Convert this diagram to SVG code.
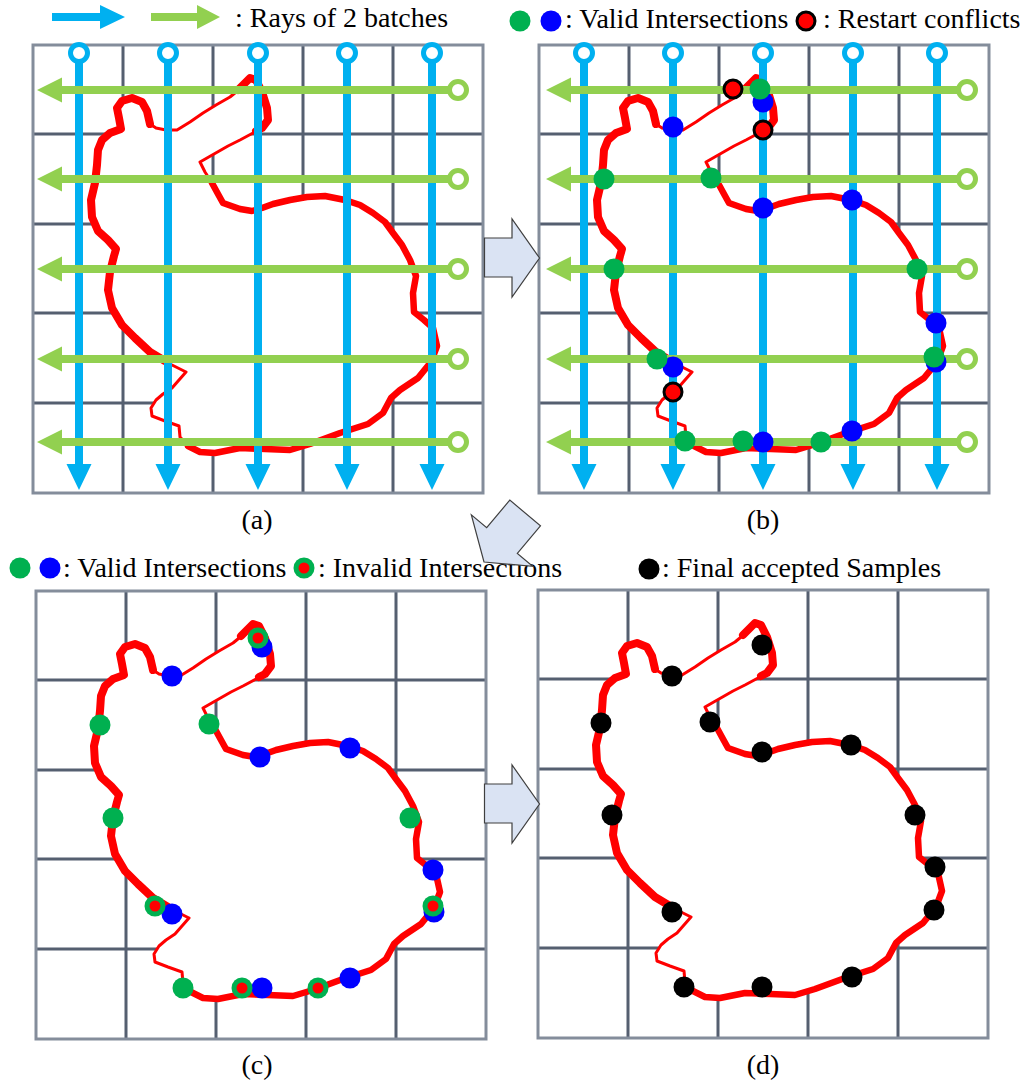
<svg xmlns="http://www.w3.org/2000/svg" xmlns:xlink="http://www.w3.org/1999/xlink" width="1032" height="1092" viewBox="0 0 1032 1092">
<style>
  .bg{fill:#ffffff}
  .frame-fill{fill:#ffffff;stroke:none}
  .frame{fill:none;stroke:#848D9B;stroke-width:3}
  .grid{fill:none;stroke:#555F70;stroke-width:3}
  .outline{fill:#ffffff;stroke:#FF0000;stroke-width:3;stroke-linejoin:round;stroke-linecap:round}
  .thick{fill:none;stroke:#FF0000;stroke-width:8;stroke-linejoin:round;stroke-linecap:round}
  .mid{fill:none;stroke:#FF0000;stroke-width:6.5;stroke-linejoin:round;stroke-linecap:round}
  .ray-b{fill:none;stroke:#00B0F0;stroke-width:8}
  .ray-g{fill:none;stroke:#92D050;stroke-width:8}
  .head-b{fill:#00B0F0}
  .head-g{fill:#92D050}
  .end-b{fill:#ffffff;stroke:#00B0F0;stroke-width:5}
  .end-g{fill:#ffffff;stroke:#92D050;stroke-width:5}
  .dot-g{fill:#00B050}
  .dot-b{fill:#0000FF}
  .dot-r{fill:#FF0000;stroke:#000000;stroke-width:3}
  .dot-in{fill:#FF0000}
  .dot-k{fill:#000000}
  .txt{font-family:"Liberation Serif","Times New Roman",serif;font-size:28px;fill:#000000}
  .mid-t{text-anchor:middle}
  .block{fill:#DAE3F3;stroke:#3F3F3F;stroke-width:1.2;stroke-linejoin:miter}
</style>
<defs>
  <!-- 5x5 cell grid with its frame -->
  <g id="grid">
    <rect class="frame-fill" x="33" y="45" width="450" height="448"/>
    <path class="grid" d="M123,45V493M213,45V493M303,45V493M393,45V493M33,134H483M33,224H483M33,313H483M33,403H483"/>
  </g>
  <rect id="frame" class="frame" x="33" y="45" width="450" height="448"/>
  <!-- bunny silhouette: white interior, red contour of varying weight -->
  <g id="bunny">
    <path class="outline" d="M121,129 L119,118 L117,108 L122,101 L132,98 L142,102 L147,111 L150,124 L156,128 L166,130 L177,130 L190,122 L203,113 L216,105 L230,97 L241,88 L250,78 L256,80 L262,92 L267,108 L268,120 L262,128 L253,133 L240,140 L228,146 L214,154 L200,162 L205,172 L212,183 L218,194 L223,203 L240,209 L252,211 L262,208 L273,204 L290,200 L307,197 L325,196 L345,200 L360,205 L373,213 L385,222 L393,233 L402,245 L410,260 L416,276 L413,293 L414,312 L424,320 L433,328 L437,346 L431,362 L418,378 L400,390 L391,398 L383,413 L368,424 L340,433 L310,444 L290,450 L265,449 L240,448 L215,453 L200,452 L188,446 L180,437 L179,426 L165,421 L152,416 L151,408 L156,400 L163,394 L172,388 L186,372 L170,364 L150,352 L135,338 L122,325 L112,308 L108,290 L110,272 L114,256 L116,249 L108,240 L98,231 L92,217 L91,200 L95,183 L97,165 L98,150 L102,140 L110,133 Z"/>
    <path class="thick" d="M150,124 L147,111 L142,102 L132,98 L122,101 L117,108 L119,118 L121,129 L110,133 L102,140 L98,150 L97,165 L95,183 L91,200 L92,217 L98,231 L108,240 L116,249 L114,256 L110,272 L108,290 L112,308 L122,325 L135,338 L150,352 L165,361"/>
    <path class="thick" d="M238,90 L250,78 L256,80 L262,92 L267,108 L268,120 L262,128 L256,131"/>
    <path class="mid" d="M212,183 L218,194 L223,203 L240,209 L252,211 L262,208 L273,204 L290,200 L307,197 L325,196 L345,200 L360,205 L373,213 L385,222 L393,233 L402,245 L410,260 L416,276 L413,293 L414,312 L424,320 L433,328 L437,346 L431,362 L418,378 L400,390 L391,398 L383,413 L368,424 L340,433 L310,444 L290,450 L265,449 L240,448 L215,453 L200,452 L188,446"/>
  </g>
</defs>

<rect class="bg" x="0" y="0" width="1032" height="1092"/>

<!-- legend: ray batches -->
<g id="legend-rays">
  <path class="head-b" d="M52,13H100V5L125,17L100,29V21H52Z"/>
  <path class="head-g" d="M151,13H197V5L220,17L197,29V21H151Z"/>
  <text class="txt" x="235" y="27">: Rays of 2 batches</text>
</g>

<!-- legend: intersections / restart conflicts -->
<g id="legend-conflicts">
  <circle class="dot-g" cx="520" cy="21" r="10.5"/>
  <circle class="dot-b" cx="551" cy="21" r="10.5"/>
  <text class="txt" x="565" y="28">: Valid Intersections</text>
  <circle class="dot-r" cx="806" cy="21" r="9"/>
  <text class="txt" x="823" y="28">: Restart conflicts</text>
</g>

<!-- panel (a): grid, bunny and two ray batches -->
<g id="panel-a">
  <use xlink:href="#grid"/>
  <use xlink:href="#frame"/>
  <use xlink:href="#bunny"/>
  <path class="ray-b" d="M79,61V466M168,61V466M258,61V466M347,61V466M432,61V466"/>
  <path class="head-b" d="M66.5,464H91.5L79,490Z M155.5,464H180.5L168,490Z M245.5,464H270.5L258,490Z M334.5,464H359.5L347,490Z M419.5,464H444.5L432,490Z"/>
  <circle class="end-b" cx="79" cy="53" r="8.5"/>
  <circle class="end-b" cx="168" cy="53" r="8.5"/>
  <circle class="end-b" cx="258" cy="53" r="8.5"/>
  <circle class="end-b" cx="347" cy="53" r="8.5"/>
  <circle class="end-b" cx="432" cy="53" r="8.5"/>
  <path class="ray-g" d="M60,90H450M60,179H450M60,269H450M60,359H450M60,442H450"/>
  <path class="head-g" d="M62,77.5V102.5L37,90Z M62,166.5V191.5L37,179Z M62,256.5V281.5L37,269Z M62,346.5V371.5L37,359Z M62,429.5V454.5L37,442Z"/>
  <circle class="end-g" cx="458" cy="90" r="8.5"/>
  <circle class="end-g" cx="458" cy="179" r="8.5"/>
  <circle class="end-g" cx="458" cy="269" r="8.5"/>
  <circle class="end-g" cx="458" cy="359" r="8.5"/>
  <circle class="end-g" cx="458" cy="442" r="8.5"/>
  <text class="txt mid-t" x="257" y="529">(a)</text>
</g>

<!-- panel (b): intersections found by the rays -->
<g id="panel-b">
  <g transform="translate(506,0)">
    <use xlink:href="#grid"/>
    <use xlink:href="#frame"/>
    <use xlink:href="#bunny"/>
  </g>
  <path class="ray-b" d="M584,61V466M673,61V466M763,61V466M853,61V466M937,61V466"/>
  <path class="head-b" d="M571.5,464H596.5L584,490Z M660.5,464H685.5L673,490Z M750.5,464H775.5L763,490Z M840.5,464H865.5L853,490Z M924.5,464H949.5L937,490Z"/>
  <circle class="end-b" cx="584" cy="53" r="8.5"/>
  <circle class="end-b" cx="673" cy="53" r="8.5"/>
  <circle class="end-b" cx="763" cy="53" r="8.5"/>
  <circle class="end-b" cx="853" cy="53" r="8.5"/>
  <circle class="end-b" cx="937" cy="53" r="8.5"/>
  <path class="ray-g" d="M569,90H959M569,179H959M569,269H959M569,359H959M569,442H959"/>
  <path class="head-g" d="M571,77.5V102.5L546,90Z M571,166.5V191.5L546,179Z M571,256.5V281.5L546,269Z M571,346.5V371.5L546,359Z M571,429.5V454.5L546,442Z"/>
  <circle class="end-g" cx="967" cy="90" r="8.5"/>
  <circle class="end-g" cx="967" cy="179" r="8.5"/>
  <circle class="end-g" cx="967" cy="269" r="8.5"/>
  <circle class="end-g" cx="967" cy="359" r="8.5"/>
  <circle class="end-g" cx="967" cy="442" r="8.5"/>
  <g id="b-blue">
    <circle class="dot-b" cx="763" cy="102" r="10.5"/>
    <circle class="dot-b" cx="673" cy="127" r="10.5"/>
    <circle class="dot-b" cx="763" cy="208" r="10.5"/>
    <circle class="dot-b" cx="852" cy="200" r="10.5"/>
    <circle class="dot-b" cx="673" cy="367" r="10.5"/>
    <circle class="dot-b" cx="763" cy="442" r="10.5"/>
    <circle class="dot-b" cx="936" cy="323" r="10.5"/>
    <circle class="dot-b" cx="936" cy="362" r="10.5"/>
    <circle class="dot-b" cx="852" cy="431" r="10.5"/>
  </g>
  <g id="b-green">
    <circle class="dot-g" cx="760" cy="89" r="10.5"/>
    <circle class="dot-g" cx="604" cy="179" r="10.5"/>
    <circle class="dot-g" cx="711" cy="178" r="10.5"/>
    <circle class="dot-g" cx="614" cy="269" r="10.5"/>
    <circle class="dot-g" cx="917" cy="269" r="10.5"/>
    <circle class="dot-g" cx="657" cy="359" r="10.5"/>
    <circle class="dot-g" cx="934" cy="357" r="10.5"/>
    <circle class="dot-g" cx="685" cy="441" r="10.5"/>
    <circle class="dot-g" cx="743" cy="441" r="10.5"/>
    <circle class="dot-g" cx="821" cy="442" r="10.5"/>
  </g>
  <g id="b-conflicts">
    <circle class="dot-r" cx="733" cy="89" r="9"/>
    <circle class="dot-r" cx="763" cy="130" r="9"/>
    <circle class="dot-r" cx="673" cy="392" r="9"/>
  </g>
  <text class="txt mid-t" x="763" y="529">(b)</text>
</g>

<!-- legend: valid / invalid intersections -->
<g id="legend-valid">
  <circle class="dot-g" cx="20" cy="568" r="10.5"/>
  <circle class="dot-b" cx="50" cy="568" r="10.5"/>
  <text class="txt" x="63" y="577">: Valid Intersections</text>
  <circle class="dot-g" cx="304" cy="568" r="10.5"/>
  <circle class="dot-in" cx="304" cy="568" r="5.5"/>
  <text class="txt" x="318" y="577">: Invalid Intersections</text>
</g>

<!-- panel (c): intersections on the surface -->
<g id="panel-c">
  <g transform="translate(3,546)">
    <use xlink:href="#grid"/>
    <use xlink:href="#frame"/>
    <use xlink:href="#bunny"/>
  </g>
  <g id="c-blue">
    <circle class="dot-b" cx="262" cy="647" r="10.5"/>
    <circle class="dot-b" cx="172" cy="676" r="10.5"/>
    <circle class="dot-b" cx="260" cy="757" r="10.5"/>
    <circle class="dot-b" cx="350" cy="748" r="10.5"/>
    <circle class="dot-b" cx="433" cy="870" r="10.5"/>
    <circle class="dot-b" cx="172" cy="914" r="10.5"/>
    <circle class="dot-b" cx="434" cy="912" r="10.5"/>
    <circle class="dot-b" cx="262" cy="988" r="10.5"/>
    <circle class="dot-b" cx="350" cy="978" r="10.5"/>
  </g>
  <g id="c-green">
    <circle class="dot-g" cx="100" cy="725" r="10.5"/>
    <circle class="dot-g" cx="209" cy="724" r="10.5"/>
    <circle class="dot-g" cx="113" cy="818" r="10.5"/>
    <circle class="dot-g" cx="410" cy="818" r="10.5"/>
    <circle class="dot-g" cx="183" cy="988" r="10.5"/>
  </g>
  <g id="c-invalid">
    <circle class="dot-g" cx="258" cy="638" r="10.5"/>
    <circle class="dot-in" cx="258" cy="638" r="5.5"/>
    <circle class="dot-g" cx="155" cy="906" r="10.5"/>
    <circle class="dot-in" cx="155" cy="906" r="5.5"/>
    <circle class="dot-g" cx="433" cy="906" r="10.5"/>
    <circle class="dot-in" cx="433" cy="906" r="5.5"/>
    <circle class="dot-g" cx="242" cy="988" r="10.5"/>
    <circle class="dot-in" cx="242" cy="988" r="5.5"/>
    <circle class="dot-g" cx="318" cy="988" r="10.5"/>
    <circle class="dot-in" cx="318" cy="988" r="5.5"/>
  </g>
  <text class="txt mid-t" x="257" y="1074">(c)</text>
</g>

<!-- legend: final samples -->
<g id="legend-final">
  <circle class="dot-k" cx="649" cy="569" r="10.5"/>
  <text class="txt" x="662" y="577">: Final accepted Samples</text>
</g>

<!-- panel (d): accepted samples -->
<g id="panel-d">
  <g transform="translate(505,545)">
    <use xlink:href="#grid"/>
    <use xlink:href="#frame"/>
    <use xlink:href="#bunny"/>
  </g>
  <g id="d-samples">
    <circle class="dot-k" cx="762" cy="645" r="10.5"/>
    <circle class="dot-k" cx="672" cy="676" r="10.5"/>
    <circle class="dot-k" cx="601" cy="723" r="10.5"/>
    <circle class="dot-k" cx="710" cy="722" r="10.5"/>
    <circle class="dot-k" cx="762" cy="752" r="10.5"/>
    <circle class="dot-k" cx="851" cy="745" r="10.5"/>
    <circle class="dot-k" cx="612" cy="815" r="10.5"/>
    <circle class="dot-k" cx="915" cy="815" r="10.5"/>
    <circle class="dot-k" cx="935" cy="867" r="10.5"/>
    <circle class="dot-k" cx="934" cy="910" r="10.5"/>
    <circle class="dot-k" cx="672" cy="912" r="10.5"/>
    <circle class="dot-k" cx="684" cy="987" r="10.5"/>
    <circle class="dot-k" cx="762" cy="987" r="10.5"/>
    <circle class="dot-k" cx="852" cy="977" r="10.5"/>
  </g>
  <text class="txt mid-t" x="763" y="1074">(d)</text>
</g>

<!-- block arrows between the stages -->
<g id="connectors">
  <path class="block" d="M484.5,238H512V219L539.5,258L512,297V277H484.5Z"/>
  <path class="block" transform="translate(484,562) rotate(130)" d="M0,0L-28,-40V-20H-64V20H-28V40Z"/>
  <path class="block" d="M484.5,784H512V765L539.5,804L512,843V823H484.5Z"/>
</g>
</svg>
